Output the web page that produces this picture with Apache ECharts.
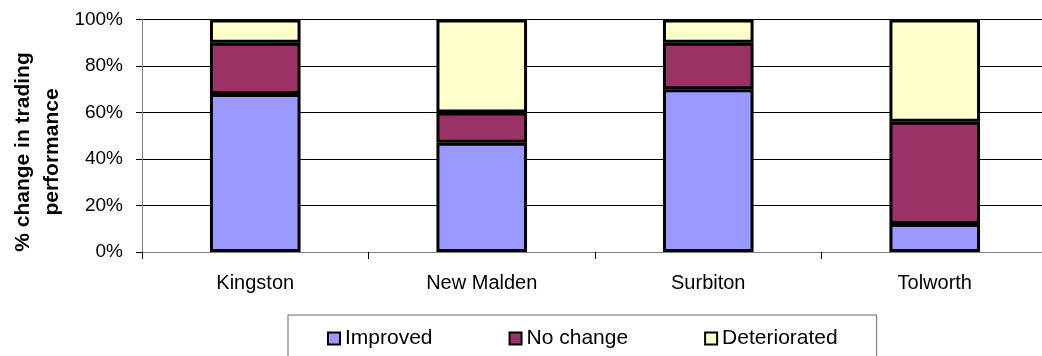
<!DOCTYPE html>
<html>
<head>
<meta charset="utf-8">
<script src="https://cdn.jsdelivr.net/npm/echarts@6/dist/echarts.min.js"></script>
<style>
  html, body { margin: 0; padding: 0; background: #fff; overflow: hidden; }
  #chart { width: 1048px; height: 356px; }
</style>
</head>
<body>
<div id="chart"></div>
<script>
// Share of businesses by change in trading performance, per town centre (%)
const towns = ['Kingston', 'New Malden', 'Surbiton', 'Tolworth'];
const improved = [68, 47, 70, 12];
const noChange = [22, 13, 20, 44];
const deteriorated = [10, 40, 10, 44];
const seriesNames = ['Improved', 'No change', 'Deteriorated'];
const seriesColors = ['#9999FF', '#993366', '#FFFFCC'];
const yTitle = '% change in trading\nperformance';

const font = '"Liberation Sans", Arial, sans-serif';
const chart = echarts.init(document.getElementById('chart'), null, { renderer: 'canvas' });

function barSeries(name, data, color) {
  return {
    name: name,
    type: 'bar',
    stack: 'total',
    data: data,
    barWidth: '40%',
    itemStyle: { color: color, borderColor: '#000', borderWidth: 3 },
    emphasis: { disabled: true }
  };
}

chart.setOption({
  animation: false,
  backgroundColor: '#fff',
  textStyle: { fontFamily: font, color: '#000' },
  // plot area runs a few pixels past the right edge of the visible window
  grid: { left: 142, right: 0, top: 19.5, bottom: 104, containLabel: false },
  xAxis: {
    type: 'category',
    data: towns,
    boundaryGap: true,
    axisLine: { show: true, lineStyle: { color: '#808080', width: 1 } },
    axisTick: { show: true, length: 7, alignWithLabel: false, lineStyle: { color: '#000' } },
    axisLabel: { margin: 21, fontSize: 20, color: '#000', fontFamily: font },
    splitLine: { show: false }
  },
  yAxis: {
    type: 'value',
    min: 0,
    max: 100,
    interval: 20,
    axisLine: { show: true, lineStyle: { color: '#808080', width: 1 } },
    axisTick: { show: true, length: 6, lineStyle: { color: '#000' } },
    axisLabel: { margin: 19, fontSize: 19, color: '#000', fontFamily: font, formatter: '{value}%' },
    splitLine: { show: true, lineStyle: { color: '#000', width: 1 } }
  },
  legend: {
    data: seriesNames,
    left: 288,
    top: 315,
    orient: 'horizontal',
    icon: 'rect',
    itemWidth: 12,
    itemHeight: 12,
    itemGap: 76,
    padding: [13, 39, 40, 39],
    borderColor: '#666',
    borderWidth: 1,
    selectedMode: false,
    textStyle: { fontSize: 21, color: '#000', fontFamily: font },
    itemStyle: { borderColor: '#000', borderWidth: 2 }
  },
  graphic: [{
    type: 'text',
    x: 37.5,
    y: 152,
    rotation: Math.PI / 2,
    style: {
      text: yTitle,
      font: 'bold 21px ' + font,
      fill: '#000',
      align: 'center',
      verticalAlign: 'middle',
      lineHeight: 29
    }
  }],
  series: [
    barSeries(seriesNames[0], improved, seriesColors[0]),
    barSeries(seriesNames[1], noChange, seriesColors[1]),
    barSeries(seriesNames[2], deteriorated, seriesColors[2])
  ]
});
</script>
</body>
</html>
